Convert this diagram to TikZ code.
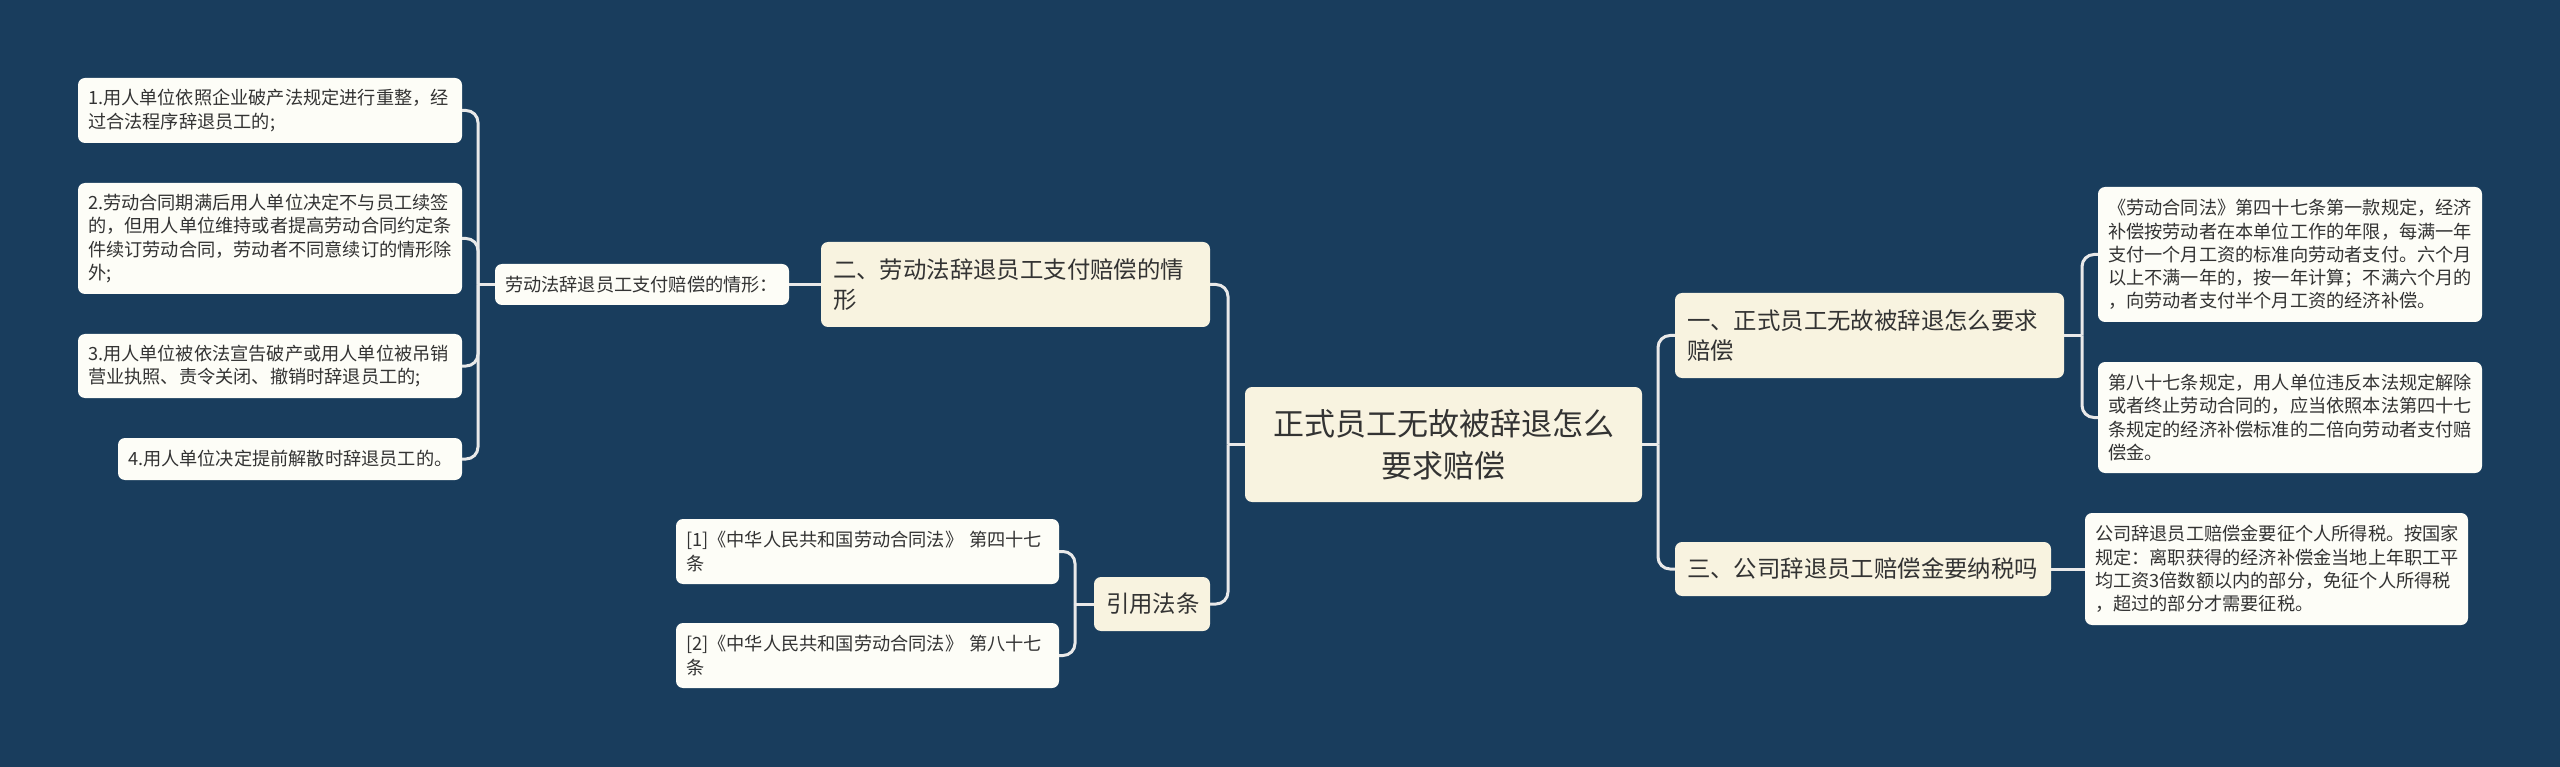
\documentclass[tikz,border=0pt]{standalone}
\usepackage{fontspec}
\setmainfont{Noto Sans CJK SC}
\definecolor{bg}{HTML}{193D5D}
\definecolor{leaffill}{HTML}{FDFDF7}
\definecolor{topicfill}{HTML}{F8F3E0}
\definecolor{txt}{HTML}{333333}
\definecolor{linec}{HTML}{E9E9E9}
\tikzset{
  box/.style={rounded corners=7pt, inner xsep=10pt, inner ysep=0pt, align=left, text=txt},
  leaf/.style={box, fill=leaffill, font=\fontsize{18.2}{23.2}\selectfont},
  topic/.style={box, fill=topicfill, inner xsep=12pt, font=\fontsize{23.4}{30}\selectfont},
  rootbox/.style={box, fill=topicfill, align=center, font=\fontsize{31}{42}\selectfont},
  conn/.style={draw=linec, line width=3pt, rounded corners=12pt},
}
\begin{document}
\begin{tikzpicture}[x=1pt,y=-1pt]
\useasboundingbox (0,0) rectangle (2560,767);
\fill[bg] (0,0) rectangle (2560,767);

% root
\node[rootbox, minimum width=397pt, minimum height=115pt, text width=373pt] (root) at (1443.5,444.5) {正式员工无故被辞退怎么\\要求赔偿};

% left branch
\node[topic, minimum width=389pt, minimum height=85pt, text width=365pt] (er) at (1015.5,284.5) {二、劳动法辞退员工支付赔偿的情\\形};
\node[leaf, minimum width=294pt, minimum height=41pt, text width=274pt] (inter) at (642,284.5) {劳动法辞退员工支付赔偿的情形：};
\node[leaf, minimum width=384pt, minimum height=65pt, text width=364pt] (l1) at (270,110.5) {1.用人单位依照企业破产法规定进行重整，经\\过合法程序辞退员工的;};
\node[leaf, minimum width=384pt, minimum height=111pt, text width=364pt] (l2) at (270,238.5) {2.劳动合同期满后用人单位决定不与员工续签\\的，但用人单位维持或者提高劳动合同约定条\\件续订劳动合同，劳动者不同意续订的情形除\\外;};
\node[leaf, minimum width=384pt, minimum height=64pt, text width=364pt] (l3) at (270,366) {3.用人单位被依法宣告破产或用人单位被吊销\\营业执照、责令关闭、撤销时辞退员工的;};
\node[leaf, minimum width=344pt, minimum height=42pt, text width=324pt] (l4) at (290,459) {4.用人单位决定提前解散时辞退员工的。};

\node[topic, minimum width=116pt, minimum height=54pt, text width=92pt] (cite) at (1152,604) {引用法条};
\node[leaf, minimum width=383pt, minimum height=65pt, text width=363pt] (ref1) at (867.5,551.5) {[1]《中华人民共和国劳动合同法》 第四十七\\条};
\node[leaf, minimum width=383pt, minimum height=65pt, text width=363pt] (ref2) at (867.5,655.5) {[2]《中华人民共和国劳动合同法》 第八十七\\条};

% right branch
\node[topic, minimum width=389pt, minimum height=85pt, text width=365pt] (yi) at (1869.5,335.5) {一、正式员工无故被辞退怎么要求\\赔偿};
\node[topic, minimum width=376pt, minimum height=54pt, text width=352pt] (san) at (1863,569) {三、公司辞退员工赔偿金要纳税吗};
\node[leaf, minimum width=384pt, minimum height=135pt, text width=364pt] (r1) at (2290,254.5) {《劳动合同法》第四十七条第一款规定，经济\\补偿按劳动者在本单位工作的年限，每满一年\\支付一个月工资的标准向劳动者支付。六个月\\以上不满一年的，按一年计算；不满六个月的\\，向劳动者支付半个月工资的经济补偿。};
\node[leaf, minimum width=384pt, minimum height=111pt, text width=364pt] (r2) at (2290,417.5) {第八十七条规定，用人单位违反本法规定解除\\或者终止劳动合同的，应当依照本法第四十七\\条规定的经济补偿标准的二倍向劳动者支付赔\\偿金。};
\node[leaf, minimum width=383pt, minimum height=112pt, text width=363pt] (r3) at (2276.5,569) {公司辞退员工赔偿金要征个人所得税。按国家\\规定：离职获得的经济补偿金当地上年职工平\\均工资3倍数额以内的部分，免征个人所得税\\，超过的部分才需要征税。};

% connectors
\coordinate (sL) at (1228,444.5);
\draw[conn] (root.west) -- (sL);
\draw[conn] (sL) |- (er.east);
\draw[conn] (sL) |- (cite.east);
\draw[conn] (er.west) -- (inter.east);
\coordinate (sLL) at (478,284.5);
\draw[conn] (inter.west) -- (sLL);
\draw[conn] (sLL) |- (l1.east);
\draw[conn] (sLL) |- (l2.east);
\draw[conn] (sLL) |- (l3.east);
\draw[conn] (sLL) |- (l4.east);
\coordinate (sC) at (1075,604);
\draw[conn] (cite.west) -- (sC);
\draw[conn] (sC) |- (ref1.east);
\draw[conn] (sC) |- (ref2.east);
\coordinate (sR) at (1658,444.5);
\draw[conn] (root.east) -- (sR);
\draw[conn] (sR) |- (yi.west);
\draw[conn] (sR) |- (san.west);
\coordinate (sY) at (2082,335.5);
\draw[conn] (yi.east) -- (sY);
\draw[conn] (sY) |- (r1.west);
\draw[conn] (sY) |- (r2.west);
\draw[conn] (san.east) -- (r3.west);
\end{tikzpicture}
\end{document}
